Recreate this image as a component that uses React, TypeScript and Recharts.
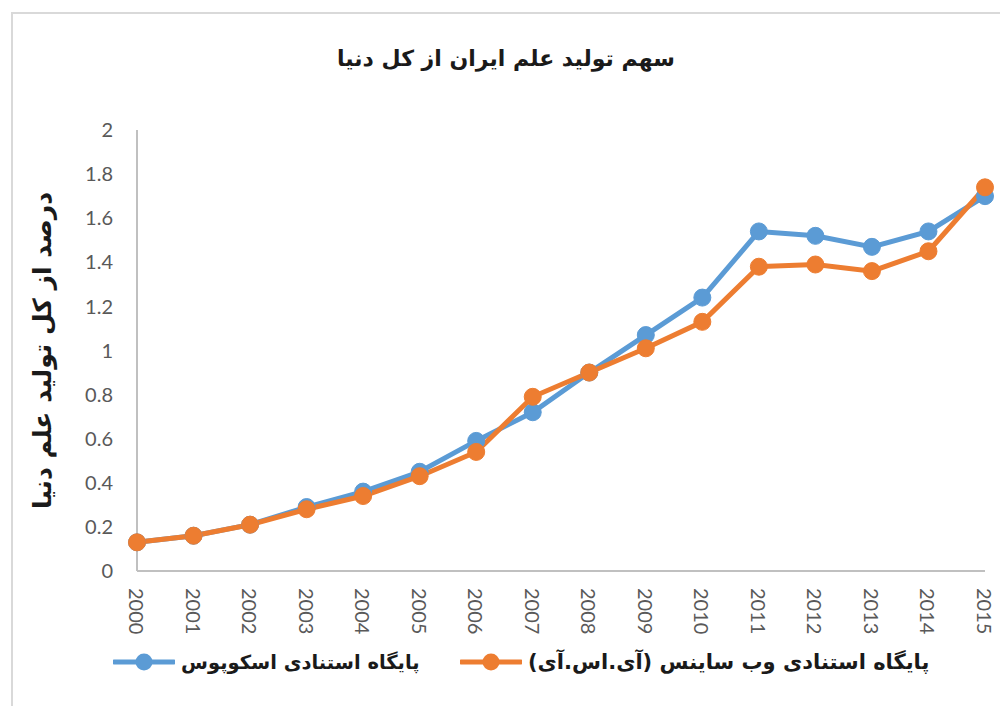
import React from 'react';
import { LineChart, Line, XAxis, YAxis, Legend, Label } from 'recharts';

const years = ['2000', '2001', '2002', '2003', '2004', '2005', '2006', '2007', '2008', '2009', '2010', '2011', '2012', '2013', '2014', '2015'];
const scopus = [0.13, 0.16, 0.21, 0.29, 0.36, 0.45, 0.59, 0.72, 0.9, 1.07, 1.24, 1.54, 1.52, 1.47, 1.54, 1.7];
const wos = [0.13, 0.16, 0.21, 0.28, 0.34, 0.43, 0.54, 0.79, 0.9, 1.01, 1.13, 1.38, 1.39, 1.36, 1.45, 1.74];
const yTicks = [0, 0.2, 0.4, 0.6, 0.8, 1, 1.2, 1.4, 1.6, 1.8, 2];

const TITLE = 'سهم تولید علم ایران از کل دنیا';
const Y_LABEL = 'درصد از کل تولید علم دنیا';
const SCOPUS_NAME = 'پایگاه استنادی اسکوپوس';
const WOS_NAME = 'پایگاه استنادی وب ساینس (آی.اس.آی)';

const BLUE = '#5B9BD5';
const ORANGE = '#ED7D31';
const PERSIAN_FONT = '"DejaVu Sans", sans-serif';

const data = years.map((year, i) => ({ year, scopus: scopus[i], wos: wos[i] }));

// year labels read top to bottom
const YearTick = (props: any) => {
  const { x, y, payload } = props;
  return (
    <text
      x={x}
      y={y}
      transform={`rotate(90, ${x}, ${y})`}
      textAnchor="start"
      dominantBaseline="central"
      fill="#595959"
      fontSize={20}
      fontFamily="Lato, sans-serif"
    >
      {payload.value}
    </text>
  );
};

const LegendMarker = ({ color }: { color: string }) => (
  <svg width={62} height={20} style={{ display: 'block' }}>
    <line x1={1} y1={10} x2={61} y2={10} stroke={color} strokeWidth={5} strokeLinecap="round" />
    <circle cx={31} cy={10} r={8.5} fill={color} />
  </svg>
);

const renderLegend = () => {
  const items = [
    { name: SCOPUS_NAME, color: BLUE, left: 113, size: 19.5 },
    { name: WOS_NAME, color: ORANGE, left: 460, size: 21 },
  ];
  return (
    <div style={{ position: 'relative', width: 1000, height: 40 }}>
      {items.map((item) => (
        <div
          key={item.name}
          style={{ position: 'absolute', left: item.left, top: 0, height: 40, display: 'flex', alignItems: 'center' }}
        >
          <LegendMarker color={item.color} />
          <span
            style={{
              marginLeft: 6,
              direction: 'rtl',
              unicodeBidi: 'isolate',
              fontFamily: PERSIAN_FONT,
              fontWeight: 'bold',
              fontSize: item.size,
              color: '#1a1a1a',
              whiteSpace: 'nowrap',
            }}
          >
            {item.name}
          </span>
        </div>
      ))}
    </div>
  );
};

export default function App() {
  return (
    <div style={{ position: 'absolute', left: 0, top: 0, width: 1000, height: 706, background: '#fff', overflow: 'hidden' }}>
      {/* outer frame, only left and top edges are visible */}
      <div
        style={{
          position: 'absolute',
          left: 11,
          top: 12,
          width: 1000,
          height: 706,
          borderLeft: '2px solid #d9d9d9',
          borderTop: '2px solid #d9d9d9',
        }}
      />
      <div
        style={{
          position: 'absolute',
          left: 0,
          top: 46,
          width: 1000,
          textAlign: 'center',
          direction: 'rtl',
          fontFamily: PERSIAN_FONT,
          fontWeight: 'bold',
          fontSize: 22,
          color: '#1a1a1a',
          paddingLeft: 6,
        }}
      >
        {TITLE}
      </div>
      <LineChart width={1000} height={706} data={data} margin={{ top: 130, right: 15, bottom: 65, left: 27 }}>
        <XAxis
          dataKey="year"
          stroke="#c0c0c0"
          strokeWidth={2}
          tickLine={false}
          tickSize={0}
          tickMargin={17}
          height={70}
          interval={0}
          tick={<YearTick />}
        />
        <YAxis
          domain={[0, 2]}
          ticks={yTicks}
          width={110}
          stroke="#c0c0c0"
          strokeWidth={2}
          tickLine={false}
          tickSize={0}
          tickMargin={24}
          tick={{ fill: '#595959', fontSize: 20, fontFamily: 'Lato, sans-serif' }}
        >
          <Label
            value={Y_LABEL}
            angle={-90}
            position="insideLeft"
            offset={15}
            style={{
              textAnchor: 'middle',
              fontFamily: PERSIAN_FONT,
              fontWeight: 'bold',
              fontSize: 25,
              fill: '#1a1a1a',
              direction: 'rtl',
            }}
          />
        </YAxis>
        <Legend
          layout="horizontal"
          verticalAlign="middle"
          align="center"
          content={renderLegend}
          wrapperStyle={{ left: 0, top: 642, width: 1000 }}
        />
        <Line
          type="linear"
          dataKey="scopus"
          name={SCOPUS_NAME}
          stroke={BLUE}
          strokeWidth={5}
          dot={{ r: 8.5, fill: BLUE, stroke: BLUE, strokeWidth: 1 }}
          isAnimationActive={false}
        />
        <Line
          type="linear"
          dataKey="wos"
          name={WOS_NAME}
          stroke={ORANGE}
          strokeWidth={5}
          dot={{ r: 8.5, fill: ORANGE, stroke: ORANGE, strokeWidth: 1 }}
          isAnimationActive={false}
        />
      </LineChart>
    </div>
  );
}
